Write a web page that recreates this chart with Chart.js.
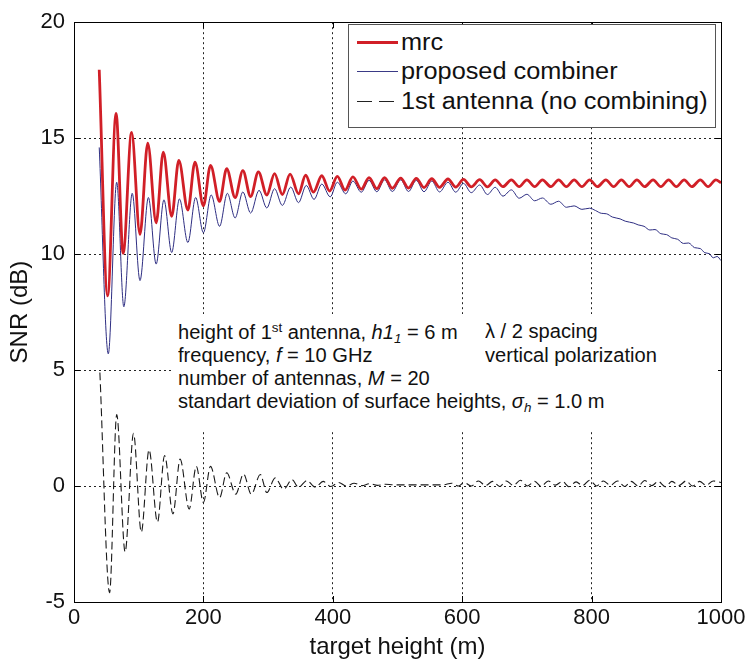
<!DOCTYPE html>
<html>
<head>
<meta charset="utf-8">
<script src="https://cdn.jsdelivr.net/npm/chart.js@4.4.1/dist/chart.umd.min.js"></script>
<style>
  body { margin: 0; background: #fff; }
  #wrap { position: relative; width: 751px; height: 664px; font-family: Arial, "Liberation Sans", sans-serif; color: #111; }
  #legend { position: absolute; left: 348px; top: 24px; width: 366px; height: 102px; border: 1px solid #555; background: #fff; }
  .row { position: absolute; left: 8px; height: 28px; line-height: 28px; font-size: 23px; white-space: nowrap; }
  .sample { position: absolute; left: 0; top: 14px; width: 41px; }
  .label { position: absolute; left: 44px; top: 0; transform: scaleX(1.1); transform-origin: left center; }
  #note { position: absolute; left: 172px; top: 314px; width: 546px; height: 116px; background: #fff; font-size: 19.5px; }
  #note div { position: absolute; white-space: nowrap; transform: scaleX(1.03); transform-origin: left center; }
  sup, sub { font-size: 13px; }
  sup { vertical-align: 7px; }
  sub { vertical-align: -4px; }
</style>
</head>
<body>
<div id="wrap">
  <canvas id="snrChart" width="751" height="664"></canvas>
  <div id="legend">
    <div class="row" style="top:3px"><span class="sample" style="border-top:3px solid #d11f27; top:13px"></span><span class="label">mrc</span></div>
    <div class="row" style="top:32px"><span class="sample" style="border-top:1px solid #3a3a86"></span><span class="label">proposed combiner</span></div>
    <div class="row" style="top:62px"><span class="sample" style="height:1px; background: repeating-linear-gradient(to right, #222 0 15px, transparent 15px 22px)"></span><span class="label">1st antenna (no combining)</span></div>
  </div>
  <div id="note">
    <div style="left:6px;top:6px">height of 1<sup>st</sup> antenna, <i>h1<sub>1</sub></i> = 6 m</div>
    <div style="left:313px;top:6px">λ / 2 spacing</div>
    <div style="left:6px;top:30px">frequency, <i>f</i> = 10 GHz</div>
    <div style="left:313px;top:30px">vertical polarization</div>
    <div style="left:6px;top:53px">number of antennas, <i>M</i> = 20</div>
    <div style="left:6px;top:76px">standart deviation of surface heights, <i>σ<sub>h</sub></i> = 1.0 m</div>
  </div>
</div>
<script>
// valeurs (extrema des oscillations)
const mrcHeight = [39, 52, 65, 76, 89, 102, 114, 127, 138, 151, 162, 176, 187, 200, 211, 225, 236, 249, 261, 273,
    285, 298, 310, 322, 334, 347, 358, 370, 383, 395, 407, 419, 431, 444, 456, 468, 480, 492, 505, 517,
    529, 541, 553, 565, 578, 590, 602, 614, 627, 639, 651, 663, 676, 688, 700, 712, 724, 737, 749, 761,
    773, 785, 797, 809, 822, 834, 846, 858, 870, 882, 895, 907, 919, 931, 943, 955, 968, 980, 992, 1000];
const mrcSnr = [17.95, 8.2, 16.07, 10.03, 15.25, 10.85, 14.78, 11.35, 14.4, 11.63, 14.04, 11.9, 13.97, 12.08, 13.83, 12.27, 13.69, 12.44, 13.6, 12.48,
    13.55, 12.55, 13.47, 12.57, 13.45, 12.6, 13.4, 12.67, 13.38, 12.72, 13.35, 12.76, 13.33, 12.8, 13.3, 12.82, 13.3, 12.84, 13.28, 12.85,
    13.27, 12.87, 13.25, 12.88, 13.24, 12.89, 13.22, 12.9, 13.21, 12.9, 13.2, 12.91, 13.2, 12.91, 13.2, 12.91, 13.2, 12.91, 13.2, 12.91,
    13.2, 12.91, 13.2, 12.91, 13.2, 12.91, 13.2, 12.91, 13.2, 12.91, 13.2, 12.91, 13.2, 12.91, 13.2, 12.91, 13.2, 12.91, 13.2, 13.08];

const propHeight = [39, 53, 66, 77, 90, 102, 115, 127, 139, 151, 163, 176, 188, 200, 212, 225, 237, 249, 261, 273,
    286, 298, 310, 322, 335, 347, 359, 371, 383, 396, 407, 420, 431, 444, 456, 468, 480, 492, 505, 517,
    529, 541, 553, 565, 578, 590, 602, 614, 627, 639, 651, 663, 676, 688, 700, 712, 724, 737, 749, 761,
    773, 785, 797, 806, 815, 823, 832, 844, 852, 865, 872, 881, 890, 898, 907, 916, 924, 933, 942, 950,
    959, 968, 975, 982, 988, 994, 1000];
const propSnr = [14.6, 5.7, 13.1, 7.73, 12.62, 8.86, 12.44, 9.57, 12.34, 10.07, 12.38, 10.5, 12.44, 10.92, 12.55, 11.2, 12.62, 11.56, 12.68, 11.77,
    12.75, 11.99, 12.82, 12.1, 12.89, 12.22, 12.96, 12.36, 13.02, 12.47, 13.1, 12.6, 13.15, 12.67, 13.18, 12.69, 13.2, 12.7, 13.2, 12.7,
    13.18, 12.69, 13.15, 12.68, 13.1, 12.67, 13.05, 12.65, 12.98, 12.57, 12.88, 12.5, 12.77, 12.41, 12.58, 12.3, 12.42, 12.15, 12.28, 12.02,
    12.08, 11.93, 11.98, 11.88, 11.76, 11.74, 11.6, 11.52, 11.42, 11.34, 11.26, 11.2, 11.04, 11.06, 10.88, 10.84, 10.7, 10.64, 10.46, 10.48,
    10.28, 10.24, 10.06, 10.02, 9.84, 9.9, 9.72];

const antHeight = [40, 55, 66, 79, 92, 104, 116, 129, 140, 153, 164, 178, 189, 200, 211, 225, 236, 250, 262, 274,
    288, 298, 311, 324, 337, 347, 360, 373, 385, 397, 409, 421, 433, 445, 457, 469, 481, 495, 520, 545,
    570, 584, 594, 603, 614, 625, 636, 647, 658, 668, 679, 690, 701, 712, 722, 733, 744, 755, 765, 776,
    786, 797, 808, 818, 829, 840, 851, 861, 872, 882, 893, 903, 914, 924, 935, 946, 956, 967, 977, 988, 1000];
const antSnr = [4.9, -4.6, 3.08, -2.84, 2.27, -1.99, 1.56, -1.56, 1.32, -1.2, 1.16, -0.99, 0.85, -0.71, 0.85, -0.5, 0.57, -0.35, 0.52, -0.35,
    0.5, -0.28, 0.35, -0.14, 0.28, -0.06, 0.24, -0.05, 0.2, -0.02, 0.15, 0.0, 0.12, 0.02, 0.1, 0.03, 0.08, 0.05, 0.05, 0.05,
    0.05, 0.12, 0.0, 0.15, 0.0, 0.22, 0.02, 0.2, -0.02, 0.22, 0.03, 0.25, 0.0, 0.2, -0.02, 0.22, 0.04, 0.2, -0.03, 0.18,
    0.02, 0.25, 0.0, 0.22, 0.03, 0.22, -0.02, 0.2, 0.0, 0.24, 0.02, 0.2, -0.03, 0.2, 0.02, 0.22, 0.0, 0.2, 0.03, 0.22, 0.15];

const xTicks = [0, 200, 400, 600, 800, 1000];
const yTicks = [-5, 0, 5, 10, 15, 20];

const toPoints = (xs, ys) => xs.map((x, i) => ({ x: x, y: ys[i] }));
const fontFamily = 'Arial, "Liberation Sans", sans-serif';

// cadre + petites graduations vers l'interieur (style matlab)
const framePlugin = {
    id: 'frame',
    afterDraw(chart) {
        const { ctx, chartArea: a, scales } = chart;
        ctx.save();
        ctx.strokeStyle = '#000';
        ctx.lineWidth = 1;
        ctx.beginPath();
        xTicks.forEach(v => {
            const px = Math.round(scales.x.getPixelForValue(v)) + 0.5;
            ctx.moveTo(px, a.bottom); ctx.lineTo(px, a.bottom - 6);
            ctx.moveTo(px, a.top); ctx.lineTo(px, a.top + 6);
        });
        yTicks.forEach(v => {
            const py = Math.round(scales.y.getPixelForValue(v)) + 0.5;
            ctx.moveTo(a.left, py); ctx.lineTo(a.left + 6, py);
            ctx.moveTo(a.right, py); ctx.lineTo(a.right - 6, py);
        });
        ctx.stroke();
        ctx.strokeRect(Math.round(a.left) + 0.5, Math.round(a.top) + 0.5, Math.round(a.right - a.left), Math.round(a.bottom - a.top));
        ctx.restore();
    }
};

const ctx = document.getElementById('snrChart').getContext('2d');
const snrChart = new Chart(ctx, {
    type: 'line',
    data: {
        datasets: [
            {
                label: '1st antenna (no combining)',
                data: toPoints(antHeight, antSnr),
                borderColor: '#1a1a1a',
                borderWidth: 1.1,
                borderDash: [8, 4],
                order: 3
            },
            {
                label: 'proposed combiner',
                data: toPoints(propHeight, propSnr),
                borderColor: '#2e2e82',
                borderWidth: 1,
                order: 2
            },
            {
                label: 'mrc',
                data: toPoints(mrcHeight, mrcSnr),
                borderColor: '#d11f27',
                borderWidth: 2.8,
                order: 1
            }
        ]
    },
    options: {
        responsive: false,
        animation: false,
        layout: { padding: { top: 15, right: 30, left: 0, bottom: 0 } },
        elements: {
            point: { radius: 0 },
            line: { cubicInterpolationMode: 'monotone', fill: false }
        },
        plugins: { legend: { display: false }, tooltip: { enabled: false } },
        scales: {
            x: {
                type: 'linear',
                min: 0,
                max: 1000,
                afterBuildTicks: s => { s.ticks = xTicks.map(v => ({ value: v })); },
                afterFit: s => { s.height = 62; },
                ticks: { color: '#111', padding: 3, maxRotation: 0, callback: v => String(v), font: { family: fontFamily, size: 22 } },
                grid: {
                    drawTicks: false,
                    color: c => (c.tick && (c.tick.value === 0 || c.tick.value === 1000)) ? 'rgba(0,0,0,0)' : '#222'
                },
                border: { display: false, dash: [2, 3] },
                title: { display: true, text: 'target height (m)', color: '#111', padding: { top: 0, bottom: 2 }, font: { family: fontFamily, size: 24 } }
            },
            y: {
                type: 'linear',
                min: -5,
                max: 20,
                afterBuildTicks: s => { s.ticks = yTicks.map(v => ({ value: v })); },
                afterFit: s => { s.width = 74; },
                ticks: { color: '#111', padding: 9, callback: v => String(v), font: { family: fontFamily, size: 22 } },
                grid: {
                    drawTicks: false,
                    color: c => (c.tick && (c.tick.value === -5 || c.tick.value === 20)) ? 'rgba(0,0,0,0)' : '#222'
                },
                border: { display: false, dash: [2, 3] },
                title: { display: true, text: 'SNR (dB)', color: '#111', padding: { top: 6, bottom: 0 }, font: { family: fontFamily, size: 24 } }
            }
        }
    },
    plugins: [framePlugin]
});
</script>
</body>
</html>
